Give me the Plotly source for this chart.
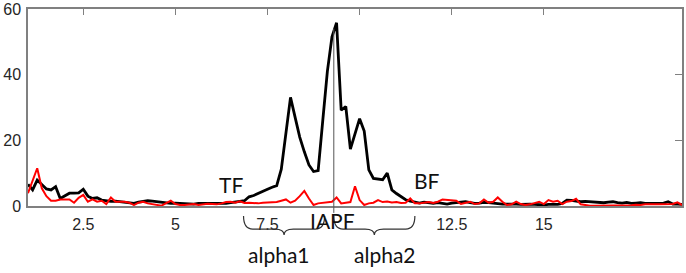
import numpy as np
import plotly.graph_objects as go

# frequency grid (Hz), 0.125 Hz resolution
freq = np.round(np.arange(1.0, 18.751, 0.125), 3)

# black spectrum (one row per Hz, 8 bins each)
power_black = [
    6.6, 4.9, 7.9, 6.5, 5.2, 4.9, 5.9, 2.3,
    3.2, 3.9, 3.9, 4.0, 5.1, 3.0, 2.3, 2.5,
    1.8, 1.6, 1.4, 1.5, 1.3, 1.0, 0.8, 0.8,
    1.2, 1.4, 1.6, 1.5, 1.3, 1.2, 1.0, 0.8,
    0.9, 0.8, 0.6, 0.7, 0.6, 0.8, 0.8, 0.7,
    0.9, 0.8, 0.9, 0.8, 1.0, 1.1, 1.4, 1.6,
    2.8, 3.2, 3.9, 4.4, 5.1, 5.7, 6.2, 11.2,
    22.0, 33.1, 27.0, 21.0, 16.5, 12.5, 10.5, 10.8,
    26.0, 41.0, 51.5, 55.8, 29.2, 30.3, 17.3, 21.8,
    26.6, 22.8, 11.0, 8.4, 8.2, 8.0, 10.0, 4.9,
    3.8, 2.8, 1.9, 1.5, 1.3, 0.9, 1.2, 1.0,
    0.8, 1.0, 0.7, 0.6, 0.9, 1.0, 1.1, 1.3,
    1.0, 0.8, 0.9, 1.1, 1.0, 0.8, 0.7, 0.6,
    0.6, 0.7, 0.6, 0.5, 0.6, 0.6, 0.5, 0.4,
    0.3, 0.5, 0.4, 0.5, 0.8, 1.8, 1.7, 1.5,
    1.3, 1.4, 1.3, 1.4, 1.2, 1.0, 1.2, 1.3,
    1.0, 0.9, 1.1, 0.8, 0.9, 1.0, 0.8, 0.9,
    0.8, 0.8, 0.9, 1.3, 0.6, 0.6, 0.5,
]

# red spectrum
power_red = [
    3.9, 8.0, 11.5, 5.4, 3.0, 1.6, 1.6, 2.0,
    2.0, 2.0, 1.0, 2.5, 3.4, 1.3, 2.0, 1.3,
    1.6, 0.6, 2.6, 1.3, 1.3, 1.3, 1.0, 0.3,
    1.0, 1.3, 0.8, 0.6, 0.2, 0.1, 0.9, 1.6,
    0.6, 0.3, 0.3, 0.5, 0.6, 0.3, 0.5, 0.7,
    0.6, 0.5, 0.8, 1.2, 1.3, 1.0, 1.4, 0.9,
    1.0, 0.8, 0.8, 1.0, 1.0, 1.0, 1.2, 1.6,
    2.0, 1.0, 1.6, 3.0, 4.6, 2.3, 0.3, 0.8,
    1.0, 1.3, 1.3, 2.6, 0.8, 1.0, 1.2, 6.0,
    1.8, 0.3, 0.8, 1.0, 1.8, 1.2, 1.4, 1.1,
    1.2, 0.9, 1.0, 2.3, 0.8, 0.8, 1.0, 1.2,
    0.9, 1.3, 2.0, 1.9, 1.6, 1.6, 0.6, 1.0,
    1.3, 0.6, 0.8, 2.0, 1.0, 1.3, 2.6, 1.3,
    0.3, 0.5, 1.3, 0.6, 0.3, 0.5, 0.8, 1.3,
    0.6, 1.8, 1.3, 1.6, 0.6, 1.3, 1.5, 2.2,
    0.5, 0.2, 0.1, 0.1, 0.1, 0.2, 0.2, 0.3,
    0.2, 0.3, 0.3, 0.2, 0.4, 0.3, 0.5, 0.4,
    0.5, 0.5, 0.5, 0.6, 0.6, 1.1, 0.3,
]

assert len(freq) == len(power_black) == len(power_red)

# top (mirrored) tick marks and bottom tick labels ("10" is covered by the IAPF label)
x_tickmarks = [2.5, 5, 7.5, 10, 12.5, 15]
x_tickvals = [2.5, 5, 7.5, 12.5, 15]
x_ticktext = ["2.5", "5", "7.5", "12.5", "15"]
y_tickvals = [0, 20, 40, 60]
y_ticktext = ["0", "20", "40", "60"]

# band markers (Hz)
TF = 6.85
IAPF = 9.3
BF = 11.5
bands = [("alpha1", TF, IAPF - 0.25, 7.82), ("alpha2", IAPF, BF, 10.69)]

X_RANGE = [1, 18.75]
Y_RANGE = [0, 60]

AXIS_COLOR = "#808080"
LABEL_FONT = dict(family="Lato, Carlito, sans-serif", size=21, color="#111111")
TICK_FONT = dict(family="Liberation Sans, Arial, sans-serif", size=16, color="#262626")

fig = go.Figure()
fig.add_trace(go.Scatter(x=freq, y=power_black, mode="lines",
                         line=dict(color="#000000", width=2.8), showlegend=False,
                         hoverinfo="skip"))
fig.add_trace(go.Scatter(x=freq, y=power_red, mode="lines",
                         line=dict(color="#ff0000", width=2.0), showlegend=False,
                         hoverinfo="skip"))
# empty trace to activate mirrored tick axes
fig.add_trace(go.Scatter(x=[], y=[], xaxis="x2", yaxis="y2", showlegend=False))


def brace_path(x0, x1, ytop, ybar, ytip, dx):
    xm = (x0 + x1) / 2
    return (f"M {x0},{ytop} Q {x0},{ybar} {x0 + dx},{ybar} "
            f"L {xm - dx},{ybar} Q {xm},{ybar} {xm},{ytip} "
            f"Q {xm},{ybar} {xm + dx},{ybar} "
            f"L {x1 - dx},{ybar} Q {x1},{ybar} {x1},{ytop}")


shapes = [
    dict(type="line", xref="x", yref="paper", x0=IAPF, x1=IAPF, y0=-0.035, y1=0.90,
         line=dict(color="#555555", width=1), layer="above"),
]
annotations = [
    dict(x=TF - 0.33, y=6.5, xref="x", yref="y", text="TF", showarrow=False,
         xanchor="center", yanchor="middle", font=LABEL_FONT),
    dict(x=BF + 0.32, y=7.8, xref="x", yref="y", text="BF", showarrow=False,
         xanchor="center", yanchor="middle", font=LABEL_FONT),
    dict(x=IAPF - 0.04, y=-0.076, xref="x", yref="paper", text="IAPF", showarrow=False,
         xanchor="center", yanchor="middle", font=LABEL_FONT),
]
for name, b0, b1, lx in bands:
    shapes.append(dict(type="path", xref="x", yref="paper",
                       path=brace_path(b0, b1, -0.051, -0.117, -0.147, 0.25),
                       line=dict(color="#333333", width=1.2)))
    annotations.append(dict(x=lx, y=-0.244, xref="x", yref="paper", text=name,
                            showarrow=False, xanchor="center", yanchor="middle",
                            font=LABEL_FONT))

fig.update_layout(
    template=None,
    width=686, height=273,
    margin=dict(l=28, r=4, t=9, b=67, autoexpand=False),
    paper_bgcolor="white", plot_bgcolor="white",
    hovermode=False,
    xaxis=dict(range=X_RANGE, tickvals=x_tickvals, ticktext=x_ticktext, ticks="",
               showline=True, mirror=True, linecolor=AXIS_COLOR, linewidth=1.5,
               showgrid=False, zeroline=False, tickfont=TICK_FONT, ticklabelstandoff=3,
               automargin=False),
    yaxis=dict(range=Y_RANGE, tickvals=y_tickvals, ticktext=y_ticktext, ticks="",
               showline=True, mirror=True, linecolor=AXIS_COLOR, linewidth=1.5,
               showgrid=False, zeroline=False, tickfont=TICK_FONT, ticklabelstandoff=2,
               automargin=False),
    xaxis2=dict(range=X_RANGE, overlaying="x", side="top", anchor="y", tickvals=x_tickmarks,
                ticks="inside", ticklen=6, tickwidth=1.3, tickcolor=AXIS_COLOR,
                showticklabels=False, showline=False, showgrid=False, zeroline=False,
                automargin=False),
    yaxis2=dict(range=Y_RANGE, overlaying="y", side="right", anchor="x", tickvals=[20, 40],
                ticks="inside", ticklen=7, tickwidth=1.3, tickcolor=AXIS_COLOR,
                showticklabels=False, showline=False, showgrid=False, zeroline=False,
                automargin=False),
    shapes=shapes, annotations=annotations,
)

fig.write_html("out.html", config={"displayModeBar": False},
               post_script="document.body.style.margin='0px';")
